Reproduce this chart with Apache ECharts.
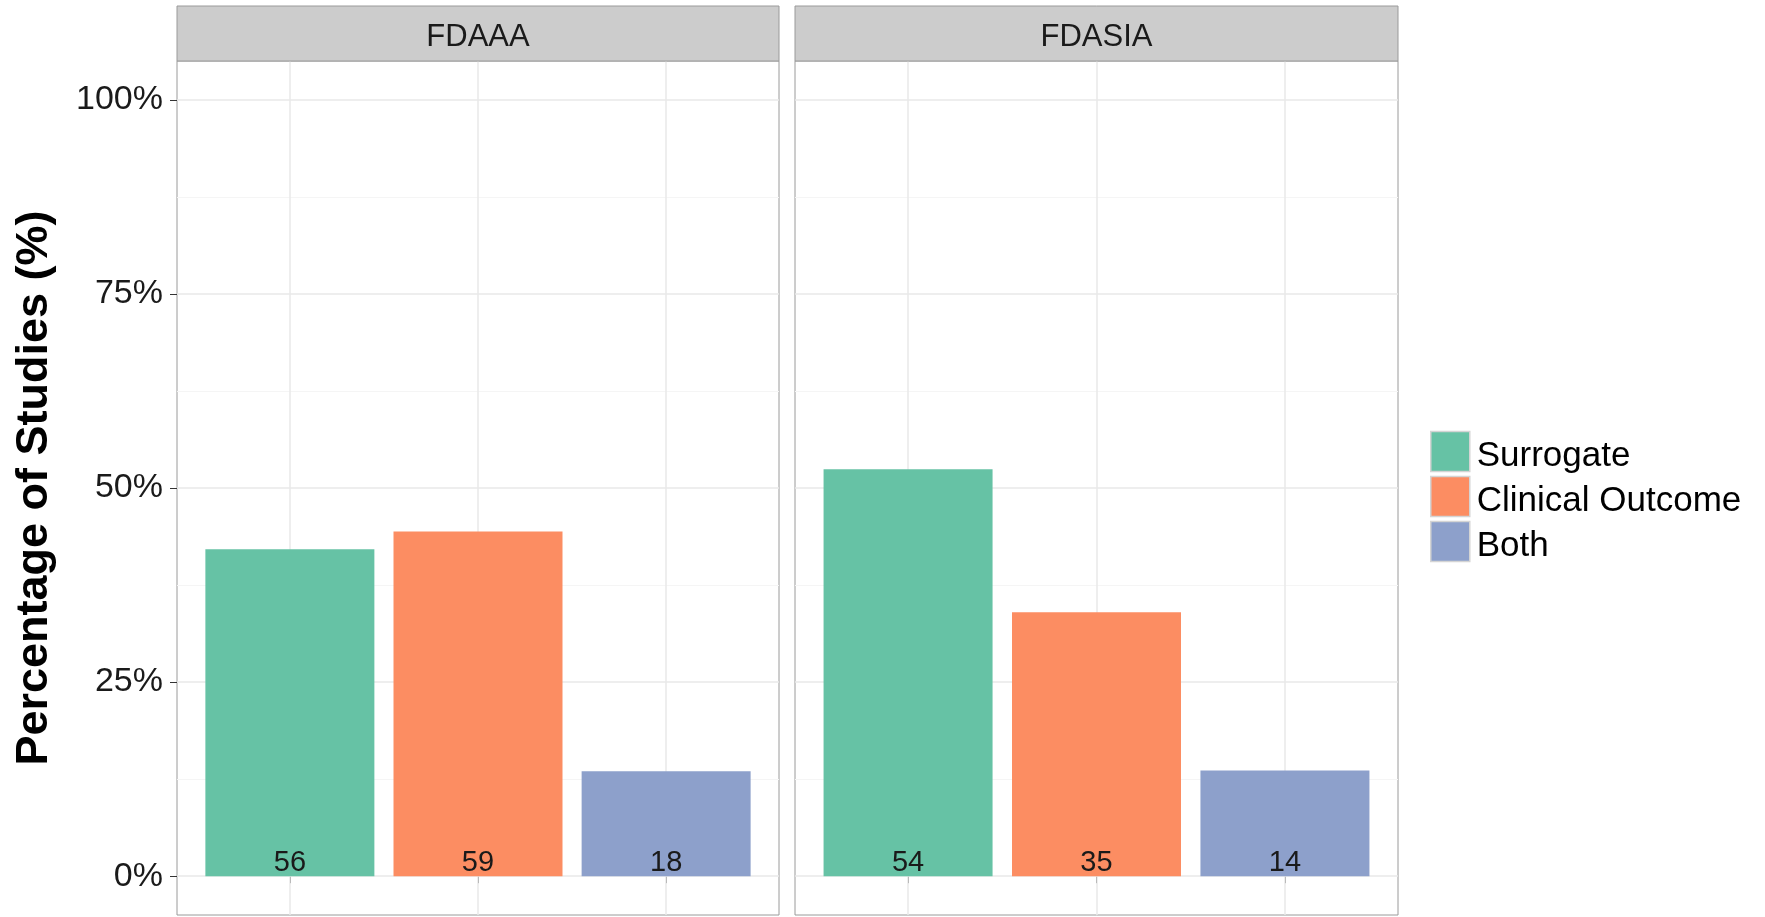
<!DOCTYPE html>
<html><head><meta charset="utf-8">
<script src="https://cdn.jsdelivr.net/npm/echarts@6/dist/echarts.min.js"></script>
<style>html,body{margin:0;padding:0;background:#fff}#c{width:1765px;height:917px}</style>
</head><body><div id="c"></div>
<script>
const categories = ['Surrogate', 'Clinical Outcome', 'Both'];
const panels = ['FDAAA', 'FDASIA'];
const fdaaaPct = [42.1, 44.4, 13.5];
const fdasiaPct = [52.4, 34.0, 13.6];
const fdaaaCounts = [56, 59, 18];
const fdasiaCounts = [54, 35, 14];
const yTicks = [0, 25, 50, 75, 100];
const yMinor = [12.5, 37.5, 62.5, 87.5];
const xPositions = [1, 2, 3];
const colors = ['#66C2A5', '#FC8D62', '#8DA0CB'];

const FONT = 'Liberation Sans, Arial, sans-serif';
const pctByPanel = [fdaaaPct, fdasiaPct];
const countsByPanel = [fdaaaCounts, fdasiaCounts];
const gridDefs = [{left: 177, width: 602}, {left: 795, width: 603}];
const TOP = 61, HEIGHT = 854;

const grids = gridDefs.map(g => ({
  left: g.left, top: TOP, width: g.width, height: HEIGHT,
  show: true, borderColor: '#9a9a9a', borderWidth: 1, backgroundColor: '#ffffff',
  containLabel: false
}));

const xAxes = gridDefs.map((g, p) => ({
  type: 'value', gridIndex: p, min: 0.4, max: 3.6,
  axisLine: {show: false},
  axisTick: {show: true, customValues: xPositions, length: 7, lineStyle: {color: '#333'}},
  axisLabel: {show: false, customValues: xPositions},
  splitLine: {show: false}
}));

const yAxes = gridDefs.map((g, p) => ({
  type: 'value', gridIndex: p, min: -5, max: 105,
  axisLine: {show: false},
  axisTick: {show: p === 0, customValues: yTicks, length: 7, lineStyle: {color: '#333'}},
  axisLabel: {show: p === 0, customValues: yTicks, formatter: v => v + '%',
    fontSize: 34, color: '#1a1a1a', fontFamily: FONT, margin: 14},
  splitLine: {show: false},
  name: p === 0 ? 'Percentage of Studies (%)' : '',
  nameLocation: 'middle', nameRotate: 90, nameGap: 120,
  nameTextStyle: {fontSize: 45, fontWeight: 'bold', color: '#000', fontFamily: FONT}
}));

const series = [];
panels.forEach((panel, p) => {
  categories.forEach((cat, i) => {
    const s = {
      type: 'bar', name: cat, xAxisIndex: p, yAxisIndex: p,
      data: [[xPositions[i], pctByPanel[p][i]]],
      barWidth: 169, barGap: '-100%', z: 3,
      itemStyle: {color: colors[i]},
      label: {show: true, position: 'insideBottom', distance: -1,
        formatter: () => String(countsByPanel[p][i]),
        fontSize: 29, color: '#1a1a1a', fontFamily: FONT}
    };
    if (i === 0) {
      s.markLine = {
        silent: true, symbol: 'none', z: 1, animation: false,
        label: {show: false},
        data: [
          ...yMinor.map(v => ({yAxis: v, lineStyle: {color: '#f5f5f5', width: 1, type: 'solid'}})),
          ...yTicks.map(v => ({yAxis: v, lineStyle: {color: '#e8e8e8', width: 1.5, type: 'solid'}})),
          ...xPositions.map(v => ({xAxis: v, lineStyle: {color: '#e8e8e8', width: 1.5, type: 'solid'}}))
        ]
      };
    }
    series.push(s);
  });
});

const graphics = [];
gridDefs.forEach((g, p) => {
  graphics.push({type: 'rect', z: 10, shape: {x: g.left, y: 6, width: g.width, height: TOP - 6},
    style: {fill: '#cccccc', stroke: '#9a9a9a', lineWidth: 1}});
  graphics.push({type: 'text', z: 11, x: g.left + g.width / 2, y: 37,
    style: {text: panels[p], font: '31px ' + FONT, fill: '#1a1a1a', align: 'center', verticalAlign: 'middle'}});
});

const chart = echarts.init(document.getElementById('c'), null, {renderer: 'canvas'});
chart.setOption({
  animation: false,
  backgroundColor: '#ffffff',
  grid: grids, xAxis: xAxes, yAxis: yAxes, series: series,
  legend: {
    data: categories, orient: 'vertical', left: 1430, top: 429,
    itemWidth: 39, itemHeight: 40, itemGap: 0, padding: 0, icon: 'rect',
    itemStyle: {borderColor: '#d4d4d4', borderWidth: 1.5},
    formatter: name => '{t|' + name + '}',
    textStyle: {fontSize: 35, lineHeight: 30, color: '#000', fontFamily: FONT,
      rich: {t: {fontSize: 35, lineHeight: 30, color: '#000', fontFamily: FONT, padding: [10, 0, 0, 2]}}},
    selectedMode: false
  },
  graphic: graphics
});
</script></body></html>
